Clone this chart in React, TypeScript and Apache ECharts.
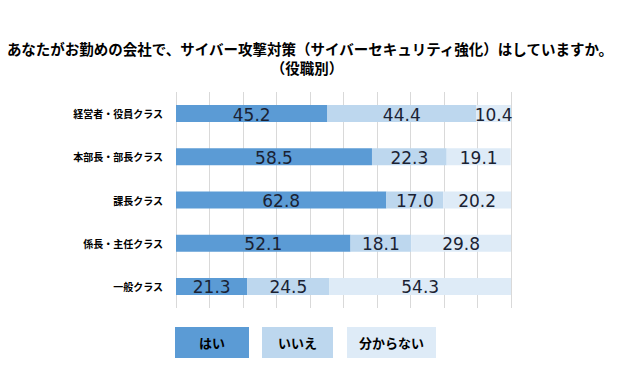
import React, { useEffect, useRef } from "react";
import * as echarts from "echarts";

const categories = ["経営者・役員クラス", "本部長・部長クラス", "課長クラス", "係長・主任クラス", "一般クラス"];
const seriesNames = ["はい", "いいえ", "分からない"];
const yesValues = [45.2, 58.5, 62.8, 52.1, 21.3];
const noValues = [44.4, 22.3, 17.0, 18.1, 24.5];
const unknownValues = [10.4, 19.1, 20.2, 29.8, 54.3];
const colors = ["#5B9BD5", "#BDD7EE", "#DEEBF7"];

const titleLine1 = "あなたがお勤めの会社で、サイバー攻撃対策（サイバーセキュリティ強化）はしていますか。";
const titleLine2 = "（役職別）";

export default function App() {
  const ref = useRef<HTMLDivElement>(null);
  useEffect(() => {
    document.body.style.margin = "0";
    const chart = echarts.init(ref.current!, null, { renderer: "svg" });
    const values = [yesValues, noValues, unknownValues];
    const legendBoxes = [
      { x: 175, w: 74 },
      { x: 262, w: 71 },
      { x: 347, w: 89 },
    ];
    const titleStyle = {
      fontFamily: "Noto Sans CJK JP",
      fontSize: 14.5,
      fontWeight: "bold",
      fill: "#000",
      align: "center",
      verticalAlign: "middle",
    };
    chart.setOption({
      animation: false,
      backgroundColor: "#ffffff",
      grid: { left: 176, right: 111, top: 92, bottom: 61, containLabel: false },
      xAxis: {
        type: "value",
        min: 0,
        max: 100,
        interval: 10,
        axisLabel: { show: false },
        axisLine: { show: false },
        axisTick: { show: false },
        splitLine: { show: true, lineStyle: { color: "#d9d9d9", width: 1 } },
      },
      yAxis: {
        type: "category",
        data: categories,
        inverse: true,
        axisLine: { show: false },
        axisTick: { show: false },
        axisLabel: {
          margin: 13,
          fontFamily: "Noto Sans CJK JP",
          fontSize: 10,
          fontWeight: "bold",
          color: "#000",
        },
      },
      series: seriesNames.map((name, i) => ({
        name,
        type: "bar",
        stack: "total",
        barWidth: 17,
        data: values[i],
        itemStyle: { color: colors[i] },
        label: {
          show: true,
          position: "inside",
          formatter: (p: any) => Number(p.value).toFixed(1),
          fontFamily: "DejaVu Sans",
          fontSize: 17,
          color: "#1a2233",
          offset: [0, 1],
        },
      })),
      graphic: [
        { type: "text", x: 310, y: 48, style: { ...titleStyle, text: titleLine1 } },
        { type: "text", x: 307, y: 67, style: { ...titleStyle, text: titleLine2 } },
        ...legendBoxes.flatMap((b, i) => [
          {
            type: "rect",
            shape: { x: b.x, y: 327, width: b.w, height: 31 },
            style: { fill: colors[i] },
          },
          {
            type: "text",
            x: b.x + b.w / 2,
            y: 342.5,
            style: {
              text: seriesNames[i],
              fontFamily: "Noto Sans CJK JP",
              fontSize: 13,
              fontWeight: "bold",
              fill: "#000",
              align: "center",
              verticalAlign: "middle",
            },
          },
        ]),
      ],
    });
    return () => chart.dispose();
  }, []);
  return <div ref={ref} style={{ position: "fixed", left: 0, top: 0, width: 622, height: 369 }} />;
}
